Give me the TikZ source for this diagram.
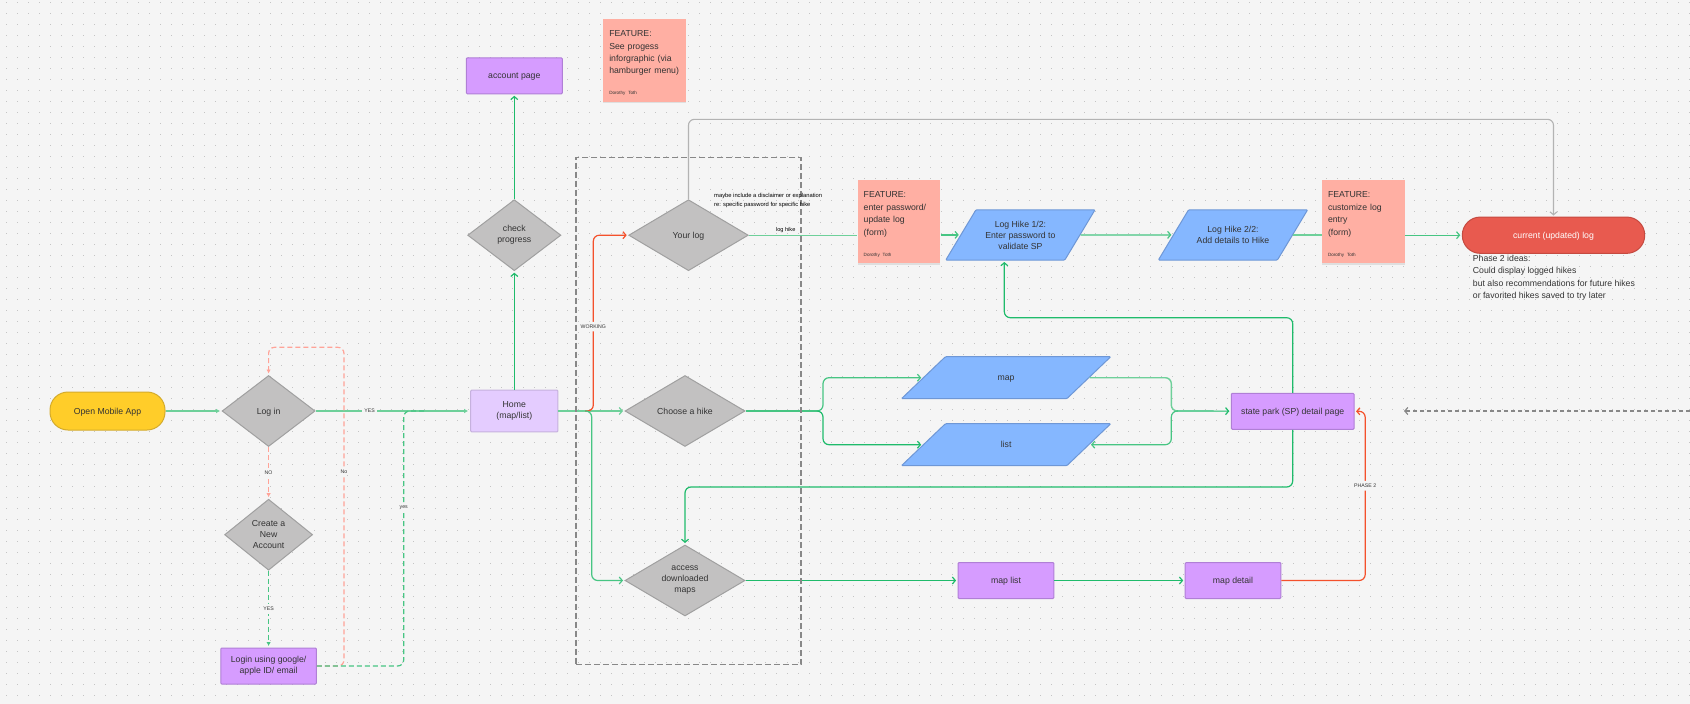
\documentclass[tikz,border=0pt]{standalone}
\usepackage{fontspec}
\setsansfont{Liberation Sans}
\usetikzlibrary{shapes.geometric, arrows.meta, shadows}

\definecolor{canvas}{HTML}{F5F5F5}
\definecolor{griddotcol}{HTML}{C4C4C4}
\definecolor{inkcol}{HTML}{333333}
\definecolor{greencol}{HTML}{1FBB6B}
\definecolor{midgreen}{HTML}{47C583}
\definecolor{softgreen}{HTML}{6ED09A}
\definecolor{redcol}{HTML}{F4512C}
\definecolor{pinkcol}{HTML}{FFA398}
\definecolor{linegray}{HTML}{B3B3B3}
\definecolor{framegray}{HTML}{888888}
\definecolor{purplefill}{HTML}{D69CFF}
\definecolor{purpledraw}{HTML}{B07FD6}
\definecolor{lilacfill}{HTML}{E4CCFF}
\definecolor{lilacdraw}{HTML}{C6B1DE}
\definecolor{bluefill}{HTML}{85B7FF}
\definecolor{bluedraw}{HTML}{6E97D6}
\definecolor{stickyfill}{HTML}{FFAFA3}
\definecolor{diamondfill}{HTML}{C2C1C1}
\definecolor{diamonddraw}{HTML}{A0A0A0}
\definecolor{yellowfill}{HTML}{FFCD29}
\definecolor{yellowdraw}{HTML}{D4AB2B}
\definecolor{redfill}{HTML}{E85A4F}
\definecolor{reddraw}{HTML}{C54A40}

\newcommand{\bodysize}{\fontsize{8.7}{11}\selectfont}
\newcommand{\signsize}{\fontsize{4.6}{6}\selectfont}

\begin{document}
\begin{tikzpicture}[
    x=1pt, y=-1pt,
    font=\sffamily\bodysize,
    text=inkcol,
    griddot/.style={
        griddotcol,
        line width=1pt,
        dash pattern=on 1pt off 10pt,
        dash phase=4.8pt
    },
    oneline/.style={
        text height=8pt,
        text depth=2pt
    },
    box/.style={
        rectangle,
        draw=purpledraw,
        fill=purplefill,
        line width=1pt,
        rounded corners=1pt,
        minimum width=#1,
        minimum height=36pt,
        inner sep=0pt,
        align=center
    },
    choice/.style={
        diamond,
        aspect=1.3,
        draw=diamonddraw,
        fill=diamondfill,
        line width=1pt,
        minimum width=#1,
        minimum height=71pt,
        inner sep=0pt,
        align=center
    },
    entry/.style={
        trapezium,
        trapezium stretches body=true,
        trapezium left angle=58,
        trapezium right angle=122,
        draw=bluedraw,
        fill=bluefill,
        line width=1pt,
        rounded corners=1pt,
        minimum width=149.3pt,
        minimum height=50.3pt,
        inner xsep=0pt,
        inner ysep=#1,
        align=center
    },
    wideentry/.style={
        entry=16pt,
        oneline,
        trapezium left angle=43.7,
        trapezium right angle=136.3,
        minimum width=209.3pt,
        minimum height=42pt
    },
    terminal/.style={
        rectangle,
        rounded corners=18pt,
        line width=1pt,
        inner sep=0pt,
        align=center
    },
    sticky/.style={
        rectangle,
        fill=stickyfill,
        drop shadow={opacity=.18, shadow xshift=0pt, shadow yshift=-1.5pt},
        minimum width=82.7pt,
        minimum height=83pt,
        text width=70.6pt,
        inner xsep=6.05pt,
        inner ysep=0pt,
        align=left,
        execute at begin node=\rule{0pt}{12pt}
    },
    plainflow/.style={
        midgreen,
        line width=1.2pt,
        rounded corners=6pt
    },
    flow/.style={
        plainflow,
        shorten >=1.5pt,
        -{Straight Barb[length=3pt, width=7pt]}
    },
    softflow/.style={
        softgreen,
        line width=1.4pt
    },
    edge label/.style={
        fill=canvas,
        text=inkcol,
        font=\sffamily\fontsize{5.2}{6}\selectfont,
        inner xsep=2pt,
        inner ysep=3pt
    }
]

    \useasboundingbox (0,0) rectangle (1690,704);
    \fill[canvas] (0,0) rectangle (1690,704);
    \foreach \rowy in {2.3,13.3,...,700}
        \draw[griddot] (0,\rowy) -- (1690,\rowy);

    % --- Start and login ---
    \node[terminal, oneline, draw=yellowdraw, fill=yellowfill, minimum width=115pt, minimum height=38pt] (openapp) at (107.5,411) {Open Mobile App};
    \node[choice=93pt, oneline] (login) at (268.6,411) {Log in};
    \node[choice=88pt] (newaccount) at (268.6,534.7) {Create a\\New\\Account};
    \node[box=95.7pt] (loginbox) at (268.6,666) {Login using google/\\apple ID/ email};

    % --- Home column ---
    \node[box=87.3pt, fill=lilacfill, draw=lilacdraw, minimum height=41.7pt] (home) at (514.3,411) {Home\\(map/list)};
    \node[choice=93.3pt] (progress) at (514.3,235.2) {check\\progress};
    \node[box=96pt, oneline] (account) at (514.3,75.8) {account page};

    % --- Choices inside the frame ---
    \node[choice=119.6pt, oneline] (yourlog) at (688.5,235.2) {Your log};
    \node[choice=120pt, oneline] (choosehike) at (685,411) {Choose a hike};
    \node[choice=120pt] (access) at (685,580.5) {access\\downloaded\\maps};

    % --- Sticky notes ---
    \node[sticky] (noteprogress) at (644.6,60.3) {FEATURE:\\[1.4pt]See progess\\[1.4pt]inforgraphic (via\\[1.4pt]hamburger menu)\\[10pt]{\signsize Dorothy Toth}};
    \node[sticky] (notepassword) at (899,221.5) {FEATURE:\\[1.4pt]enter password/\\[1.4pt]update log\\[1.4pt](form)\\[10pt]{\signsize Dorothy Toth}};
    \node[sticky] (notecustom) at (1363.3,221.5) {FEATURE:\\[1.4pt]customize log\\[1.4pt]entry\\[1.4pt](form)\\[10pt]{\signsize Dorothy Toth}};

    % --- Log hike row ---
    \node[entry=10pt] (logone) at (1020.4,234.9) {Log Hike 1/2:\\Enter password to\\validate SP};
    \node[entry=15.5pt] (logtwo) at (1233,234.9) {Log Hike 2/2:\\Add details to Hike};
    \node[terminal, oneline, draw=reddraw, fill=redfill, text=white, minimum width=182.4pt, minimum height=36.3pt] (currentlog) at (1553.5,235.2) {current (updated) log};
    \node[anchor=north west, align=left, inner sep=0pt, font=\sffamily\fontsize{8.7}{12.4}\selectfont] (phasetwo) at (1472.7,255) {Phase 2 ideas:\\Could display logged hikes\\but also recommendations for future hikes\\or favorited hikes saved to try later};

    % --- Map row ---
    \node[wideentry] (map) at (1006.1,377.7) {map};
    \node[wideentry] (list) at (1006.1,444.7) {list};
    \node[box=122.7pt, oneline] (parkpage) at (1292.7,411.3) {state park (SP) detail page};
    \node[box=95.8pt, oneline] (maplist) at (1006,580.5) {map list};
    \node[box=95.6pt, oneline] (mapdetail) at (1233,580.5) {map detail};

    % --- Free ends and bends ---
    \coordinate (homesplit) at (585,411);
    \coordinate (hikesplit) at (817.3,411);
    \coordinate (hikebar) at (823,411);
    \coordinate (mergebar) at (1171.3,411);
    \coordinate (mergepoint) at (1177,411);
    \coordinate (logentry) at (1004.3,260.5);
    \coordinate (upperbend) at (1004.3,317.7);
    \coordinate (lowerbend) at (685,487);
    \coordinate (topbend) at (688.5,119.3);
    \coordinate (offpage) at (1690,411);
    \coordinate (offarrow) at (1404,411);

    % --- Login connectors ---
    \draw[softflow, shorten >=1.5pt, -{Latex[length=4pt, width=4.5pt]}] (openapp) -- (login);
    \draw[softflow, shorten >=2pt, -{Latex[length=4pt, width=4.5pt]}] (login) -- node[edge label, pos=.35] (yeshome) {YES} (home);
    \draw[pinkcol, line width=1.2pt, dash pattern=on 5pt off 3pt, shorten >=1.5pt, -{Latex[length=4pt, width=4.5pt]}] (login) -- node[edge label, midway] (nolabel) {NO} (newaccount);
    \draw[midgreen, line width=1.2pt, dash pattern=on 5pt off 3pt, shorten >=1.5pt, -{Latex[length=4pt, width=4.5pt]}] (newaccount) -- node[edge label, midway] (yeslabel) {YES} (loginbox);
    \draw[pinkcol, line width=1.2pt, dash pattern=on 5pt off 3pt, rounded corners=6pt, shorten >=1.5pt, -{Latex[length=4pt, width=4.5pt]}]
        (loginbox.east) -- ++(27,0) -- ++(0,-318.7) node[edge label, pos=.61] (nolog) {No} -| (login.north);
    \draw[midgreen, line width=1.2pt, dash pattern=on 5pt off 3pt, rounded corners=6pt]
        (loginbox.east) -| node[edge label, pos=.81] (yeslog) {yes} (403.7,411) -- (425,411);

    % --- Home connectors ---
    \draw[flow, greencol] (home) -- (progress);
    \draw[flow, greencol] (progress) -- (account);
    \draw[softflow] (home) -- (homesplit);
    \draw[flow, softgreen] (homesplit) -- (choosehike);
    \draw[redcol, line width=1.2pt, rounded corners=6pt, shorten >=1.5pt, -{Straight Barb[length=3pt, width=7pt]}]
        (homesplit) -- ++(8.3,0) |- node[edge label, pos=.24] (working) {WORKING} (yourlog.west);
    \draw[flow] (homesplit) -- ++(6.7,0) |- (access.west);

    % --- Log hike row connectors ---
    \draw[softflow] (yourlog.east) -- node[above, inner ysep=2pt, font=\sffamily\fontsize{5.6}{7}\selectfont, text=black, pos=.34] (loghike) {log hike} (notepassword.west |- yourlog.east);
    \draw[flow] (notepassword.east |- logone.west) -- (logone.west);
    \draw[flow] (logone.east) -- (logtwo.west);
    \draw[softflow] (logtwo.east) -- (notecustom.west |- logtwo.east);
    \draw[flow] (notecustom.east |- currentlog.west) -- (currentlog.west);
    \draw[linegray, line width=1.1pt, rounded corners=6pt, shorten >=1pt, -{Straight Barb[length=3pt, width=7pt]}]
        (yourlog.north) -- (topbend) -| (currentlog.north);

    % --- Map row connectors ---
    \draw[plainflow] (choosehike) -- (hikesplit);
    \draw[flow] (hikesplit) -- (hikebar) |- (map.west);
    \draw[flow, greencol] (hikesplit) -- (hikebar) |- (list.west);
    \draw[softflow, rounded corners=6pt] (map.east) -| (mergebar) -- (mergepoint);
    \draw[flow] (mergepoint) -- (mergebar) |- (list.east);
    \draw[flow, greencol] (mergepoint) -- (parkpage);
    \draw[flow, greencol] (parkpage.north) |- (upperbend) -- (logentry);
    \draw[flow, greencol] (parkpage.south) |- (lowerbend) -- (access.north);
    \draw[flow, greencol] (access) -- (maplist);
    \draw[flow, greencol] (maplist) -- (mapdetail);
    \draw[redcol, line width=1.2pt, rounded corners=6pt, shorten >=1.5pt, -{Straight Barb[length=3pt, width=7pt]}]
        (mapdetail.east) -| node[edge label, pos=.78] (phaselabel) {PHASE 2} (1365.2,411.3) -- (parkpage.east);
    \draw[framegray, line width=1.2pt, dash pattern=on 4.5pt off 2.5pt, -{Straight Barb[length=3pt, width=7pt]}] (offpage) -- (offarrow);

    % --- Frame round the choices ---
    \node[draw=framegray, line width=1.5pt, dash pattern=on 6pt off 3pt, minimum width=225.3pt, minimum height=507pt, inner sep=0pt] (choiceframe) at (688.4,410.8) {};

    \node[anchor=north west, align=left, inner sep=0pt, text=black, font=\sffamily\fontsize{5.8}{8.3}\selectfont] (disclaimer) at (714,193.5) {maybe include a disclaimer or explanation\\re: specific password for specific hike};

\end{tikzpicture}
\end{document}
